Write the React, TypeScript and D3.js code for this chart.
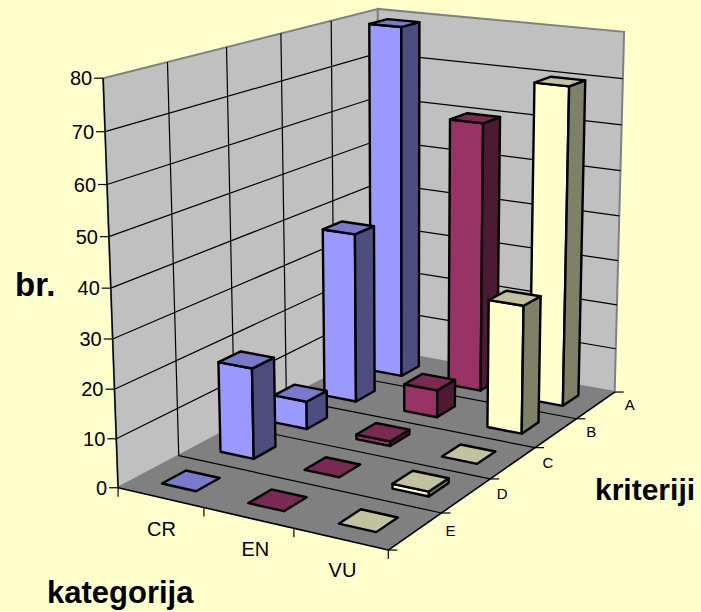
import React from "react";
import * as d3 from "d3";

const categories = ["CR", "EN", "VU"];
const rows = ["A", "B", "C", "D", "E"];
const valueTicks = [0, 10, 20, 30, 40, 50, 60, 70, 80];
const seriesCR = [79, 37.4, 6, 19, 0];
const seriesEN = [60, 6, 1, 0, 0];
const seriesVU = [70, 27.7, 0, 1, 0];
const seriesValues = [seriesCR, seriesEN, seriesVU];

const palette = [
  { front: "#9999FF", side: "#4D4D80", top: "#7A7ACC" },
  { front: "#993366", side: "#4D1A33", top: "#7A2952" },
  { front: "#FFFFCC", side: "#808066", top: "#C2C29F" },
];

const categoryLabelDx = [1, 7, 2];
const rowLabelOffset: [number, number][] = [[15, 18], [15, 18], [13, 20], [12, 20], [9, 23]];

type P3 = [number, number, number];
type P2 = [number, number];

// Cube corners (u: categories, v: back to front, w: height) and where they appear on screen
const anchors: [P3, P2][] = [
  [[0, 1, 0], [118.5, 488]],
  [[1, 1, 0], [388, 550]],
  [[1, 0, 0], [615, 392]],
  [[0, 0, 0], [378.5, 349.5]],
  [[0, 1, 1], [103, 78]],
  [[0, 0, 1], [378, 9]],
  [[1, 0, 1], [624, 32]],
];

function solveProjection(): number[] {
  const A: number[][] = [];
  const b: number[] = [];
  anchors.forEach(([[x, y, z], [sx, sy]]) => {
    A.push([x, y, z, 1, 0, 0, 0, 0, -sx * x, -sx * y, -sx * z]);
    b.push(sx);
    A.push([0, 0, 0, 0, x, y, z, 1, -sy * x, -sy * y, -sy * z]);
    b.push(sy);
  });
  const n = 11;
  const M: number[][] = d3.range(n).map((i) =>
    d3.range(n + 1).map((j) =>
      j < n ? d3.sum(A, (r) => r[i] * r[j]) : d3.sum(A, (r, k) => r[i] * b[k])
    )
  );
  for (let c = 0; c < n; c++) {
    let p = c;
    for (let r = c + 1; r < n; r++) if (Math.abs(M[r][c]) > Math.abs(M[p][c])) p = r;
    [M[c], M[p]] = [M[p], M[c]];
    for (let r = 0; r < n; r++) {
      if (r === c) continue;
      const f = M[r][c] / M[c][c];
      for (let k = c; k <= n; k++) M[r][k] -= f * M[c][k];
    }
  }
  return M.map((r, i) => r[n] / r[i]);
}

const h = solveProjection();
const project = ([x, y, z]: P3): P2 => {
  const d = h[8] * x + h[9] * y + h[10] * z + 1;
  return [
    (h[0] * x + h[1] * y + h[2] * z + h[3]) / d,
    (h[4] * x + h[5] * y + h[6] * z + h[7]) / d,
  ];
};

const wScale = d3.scaleLinear().domain([0, 80]).range([0, 1]);
const uBand = d3.scaleBand<string>().domain(categories).range([0, 1]).paddingInner(0.6).paddingOuter(0.3);
const vBand = d3.scaleBand<string>().domain(rows).range([0, 1]).paddingInner(0.6).paddingOuter(0.3);
const uStep = d3.scaleLinear().domain([0, categories.length]).range([0, 1]);
const vStep = d3.scaleLinear().domain([0, rows.length]).range([0, 1]);

const path = (pts: P3[], closed = false) => {
  const s = d3.line()(pts.map(project)) ?? "";
  return closed ? s + "Z" : s;
};

const seg = (a: P3, b: P3, stroke: string, sw: number, key: string) => (
  <path key={key} d={path([a, b])} stroke={stroke} strokeWidth={sw} fill="none" />
);

function Bar({ c, r }: { c: number; r: number }) {
  const value = seriesValues[c][r];
  const u0 = uBand(categories[c])!;
  const u1 = u0 + uBand.bandwidth();
  const v0 = vBand(rows[r])!;
  const v1 = v0 + vBand.bandwidth();
  const w = wScale(value);
  const col = palette[c];
  const common = { stroke: "#000", strokeWidth: 2.4, strokeLinejoin: "round" as const };
  return (
    <g>
      {value > 0 && (
        <>
          <path d={path([[u0, v1, 0], [u1, v1, 0], [u1, v1, w], [u0, v1, w]], true)} fill={col.front} {...common} />
          <path d={path([[u1, v1, 0], [u1, v0, 0], [u1, v0, w], [u1, v1, w]], true)} fill={col.side} {...common} />
        </>
      )}
      <path d={path([[u0, v1, w], [u1, v1, w], [u1, v0, w], [u0, v0, w]], true)} fill={col.top} {...common} />
    </g>
  );
}

const fontFamily = "'Liberation Sans', Arial, sans-serif";

export default function App() {
  const bars: { c: number; r: number }[] = [];
  rows.forEach((_, r) => categories.forEach((_, c) => bars.push({ c, r })));
  return (
    <svg
      width={701}
      height={612}
      viewBox="0 0 701 612"
      style={{ position: "fixed", left: 0, top: 0, background: "#FFFFCC", fontFamily }}
    >
      <rect width={701} height={612} fill="#FFFFCC" />
      {/* walls */}
      <path d={path([[0, 1, 0], [0, 0, 0], [0, 0, 1], [0, 1, 1]], true)} fill="#C0C0C0" stroke="#808080" strokeWidth={2} />
      <path d={path([[0, 0, 0], [1, 0, 0], [1, 0, 1], [0, 0, 1]], true)} fill="#C0C0C0" stroke="#808080" strokeWidth={2} />
      <path d={path([[0, 1, 0], [1, 1, 0], [1, 0, 0], [0, 0, 0]], true)} fill="#808080" />
      {/* gridlines */}
      {valueTicks.slice(1, -1).map((t) => (
        <path
          key={t}
          d={path([[0, 1, wScale(t)], [0, 0, wScale(t)], [1, 0, wScale(t)]])}
          stroke="#000"
          strokeWidth={1.2}
          fill="none"
        />
      ))}
      {d3.range(1, rows.length).map((i) => (
        <g key={i}>
          {seg([0, vStep(i), 0], [0, vStep(i), 1], "#000", 1.2, "w" + i)}
          {seg([0, vStep(i), 0], [1, vStep(i), 0], "#000", 1.2, "f" + i)}
        </g>
      ))}
      {/* axes edges */}
      {seg([0, 1, 0], [0, 1, 1], "#000", 1.4, "ay")}
      {seg([0, 1, 0], [1, 1, 0], "#000", 1.6, "ax")}
      {seg([1, 1, 0], [1, 0, 0], "#000", 1.6, "az")}
      {/* value ticks */}
      {valueTicks.map((t) => {
        const [x, y] = project([0, 1, wScale(t)]);
        return (
          <g key={t}>
            <line x1={x - 9} x2={x} y1={y} y2={y} stroke="#000" strokeWidth={1.2} />
            <text x={x - 11} y={y + 7} textAnchor="end" fontSize={20}>{t}</text>
          </g>
        );
      })}
      {/* category ticks */}
      {d3.range(0, categories.length + 1).map((i) => {
        const [x, y] = project([uStep(i), 1, 0]);
        return <line key={i} x1={x} x2={x} y1={y} y2={y + 9} stroke="#000" strokeWidth={1.2} />;
      })}
      {categories.map((c, i) => {
        const [x, y] = project([uStep(i + 0.5), 1, 0]);
        return <text key={c} x={x + categoryLabelDx[i]} y={y + 38} textAnchor="middle" fontSize={20}>{c}</text>;
      })}
      {/* row ticks */}
      {d3.range(0, rows.length + 1).map((i) => {
        const [x, y] = project([1, vStep(i), 0]);
        return <line key={i} x1={x} x2={x + 9} y1={y} y2={y} stroke="#000" strokeWidth={1.2} />;
      })}
      {rows.map((r, i) => {
        const [x, y] = project([1, vStep(i), 0]);
        return <text key={r} x={x + rowLabelOffset[i][0]} y={y + rowLabelOffset[i][1]} textAnchor="middle" fontSize={15}>{r}</text>;
      })}
      {bars.map(({ c, r }) => <Bar key={`${c}-${r}`} c={c} r={r} />)}
      <text x={15} y={296} fontSize={33} fontWeight="bold">br.</text>
      <text x={47} y={603} fontSize={31} fontWeight="bold">kategorija</text>
      <text x={595} y={500} fontSize={30} fontWeight="bold">kriteriji</text>
    </svg>
  );
}
